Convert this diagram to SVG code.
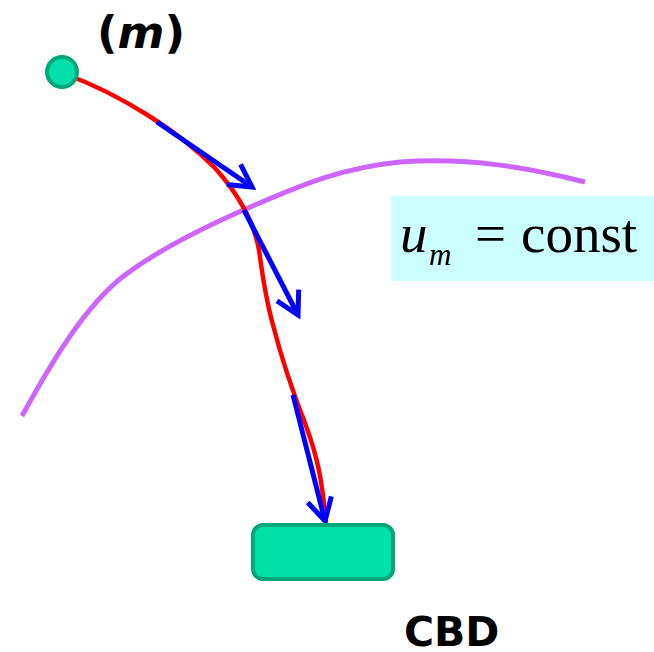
<svg xmlns="http://www.w3.org/2000/svg" width="654" height="652" viewBox="0 0 654 652">
<style>
.node{fill:#00E0A8;stroke:#00A878;stroke-width:4}
.bold{font-family:"DejaVu Sans",Verdana,sans-serif;font-weight:bold;fill:#000}
.tm{font-family:"Liberation Serif","Times New Roman",serif;fill:#000}
.blue{fill:none;stroke:#0000FF;stroke-width:5;marker-end:url(#head)}
</style>
<defs>
<marker id="head" markerUnits="userSpaceOnUse" markerWidth="40" markerHeight="40" viewBox="-30 -20 40 40" refX="0" refY="0" orient="auto">
<path d="M-20,-11 L0,0 L-20,11" fill="none" stroke="#0000FF" stroke-width="5" stroke-linecap="square"/>
</marker>
</defs>
<rect x="391" y="196" width="263" height="85" fill="#CCFFFF"/>
<g id="connectors">
<path d="M22,416 C50,365 85,305 125,275 C165,245 220,220 255,205 C300,186 340,168 400,162 C470,157 530,168 585,182" fill="none" stroke="#CC66FF" stroke-width="5"/>
<path d="M65,74 C120,94 180,132 215,168 C240,196 254,222 259,250 C263,280 266,300 273,325 C282,360 292,390 305,423 C318,458 322,480 326,523" fill="none" stroke="#FF0000" stroke-width="4.5"/>
<path class="blue" d="M157,122 L252,187"/>
<path class="blue" d="M244,210 L298,315"/>
<path class="blue" d="M293,395 L325,521"/>
</g>
<g id="m">
<circle class="node" cx="62" cy="72" r="15"/>
<text class="bold" x="97" y="48" font-size="45">(<tspan font-style="italic">m</tspan>)</text>
</g>
<g id="cbd">
<rect class="node" x="253" y="525" width="140" height="54" rx="10"/>
<text class="bold" x="404" y="646" font-size="41">CBD</text>
</g>
<g id="formula">
<text class="tm" x="400" y="252" font-size="55"><tspan font-style="italic">u</tspan></text>
<text class="tm" x="429" y="265" font-size="31" font-style="italic">m</text>
<text class="tm" x="475" y="252" font-size="55">=</text>
<text class="tm" x="521" y="252" font-size="55">const</text>
</g>
</svg>
